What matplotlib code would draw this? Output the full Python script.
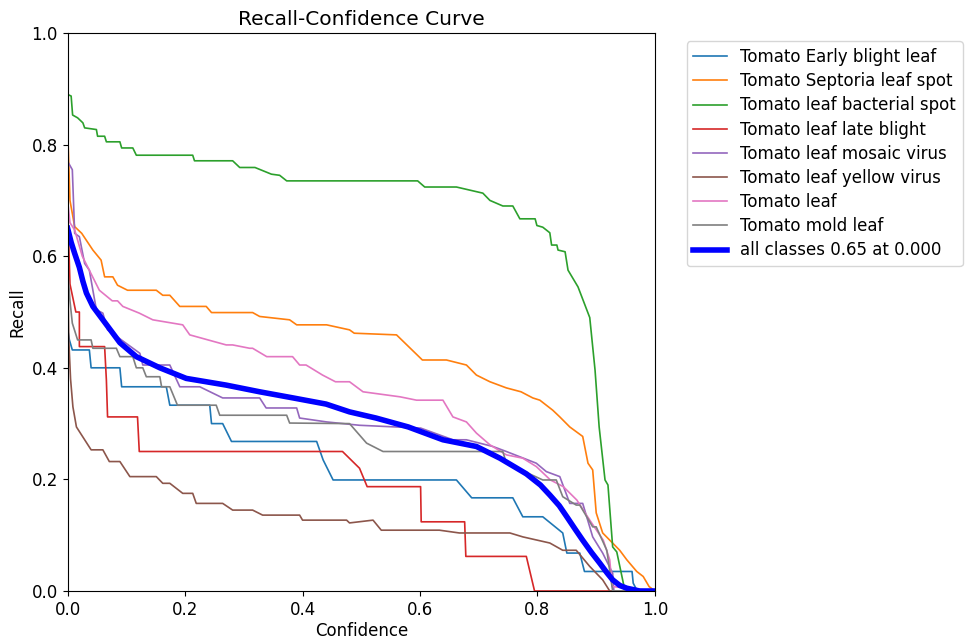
import numpy as np
import matplotlib
matplotlib.use('Agg')
import matplotlib.pyplot as plt

# recall vs confidence per class
names = ['Tomato Early blight leaf', 'Tomato Septoria leaf spot', 'Tomato leaf bacterial spot',
         'Tomato leaf late blight', 'Tomato leaf mosaic virus', 'Tomato leaf yellow virus',
         'Tomato leaf', 'Tomato mold leaf']

early_x = [0.0, 0.003, 0.008, 0.037, 0.040, 0.089, 0.092, 0.168, 0.174, 0.242, 0.245, 0.264, 0.279,
           0.424, 0.435, 0.452, 0.480, 0.662, 0.688, 0.758, 0.775, 0.809, 0.843, 0.850, 0.872, 0.880,
           0.961, 0.963, 0.97, 1.0]
early_y = [0.47, 0.45, 0.432, 0.432, 0.40, 0.40, 0.366, 0.366, 0.333, 0.333, 0.30, 0.30, 0.268,
           0.268, 0.235, 0.199, 0.199, 0.199, 0.167, 0.167, 0.133, 0.133, 0.104, 0.068, 0.068, 0.035,
           0.035, 0.014, 0.0, 0.0]

sept_x = [0.0, 0.004, 0.012, 0.024, 0.043, 0.057, 0.063, 0.077, 0.085, 0.102, 0.151, 0.162, 0.174,
          0.191, 0.236, 0.245, 0.315, 0.327, 0.378, 0.390, 0.441, 0.480, 0.488, 0.560, 0.604, 0.645,
          0.679, 0.696, 0.719, 0.747, 0.772, 0.792, 0.804, 0.826, 0.838, 0.855, 0.877, 0.886, 0.894,
          0.900, 0.911, 0.940, 0.952, 0.969, 0.980, 0.99, 1.0]
sept_y = [0.83, 0.70, 0.653, 0.641, 0.611, 0.593, 0.563, 0.563, 0.548, 0.539, 0.539, 0.53, 0.53,
          0.51, 0.51, 0.499, 0.499, 0.492, 0.486, 0.477, 0.477, 0.468, 0.462, 0.459, 0.414, 0.414,
          0.405, 0.387, 0.375, 0.364, 0.357, 0.346, 0.342, 0.324, 0.312, 0.294, 0.277, 0.229, 0.217,
          0.14, 0.104, 0.073, 0.056, 0.035, 0.026, 0.008, 0.0]

bact_x = [0.0, 0.006, 0.0085, 0.017, 0.026, 0.029, 0.049, 0.051, 0.063, 0.066, 0.089, 0.092, 0.111,
          0.117, 0.213, 0.216, 0.281, 0.293, 0.319, 0.347, 0.361, 0.373, 0.596, 0.608, 0.662, 0.707,
          0.719, 0.741, 0.758, 0.770, 0.796, 0.799, 0.809, 0.821, 0.824, 0.833, 0.835, 0.847, 0.852,
          0.869, 0.889, 0.898, 0.905, 0.915, 0.920, 0.928, 0.935, 0.949, 1.0]
bact_y = [0.89, 0.887, 0.853, 0.848, 0.839, 0.83, 0.827, 0.815, 0.815, 0.805, 0.805, 0.794, 0.794,
          0.781, 0.781, 0.771, 0.771, 0.759, 0.759, 0.747, 0.745, 0.735, 0.735, 0.724, 0.724, 0.713,
          0.70, 0.69, 0.69, 0.667, 0.667, 0.655, 0.652, 0.642, 0.62, 0.62, 0.611, 0.608, 0.575, 0.545,
          0.49, 0.396, 0.294, 0.199, 0.19, 0.079, 0.07, 0.0, 0.0]

late_x = [0.0, 0.004, 0.014, 0.020, 0.020, 0.063, 0.066, 0.068, 0.119, 0.122, 0.468, 0.497, 0.510,
          0.601, 0.602, 0.676, 0.678, 0.781, 0.795, 1.0]
late_y = [0.69, 0.55, 0.50, 0.50, 0.438, 0.438, 0.378, 0.312, 0.312, 0.25, 0.25, 0.22, 0.187,
          0.187, 0.124, 0.124, 0.062, 0.062, 0.0, 0.0]

mosaic_x = [0.0, 0.008, 0.012, 0.020, 0.029, 0.037, 0.043, 0.049, 0.060, 0.068, 0.123, 0.128,
            0.174, 0.191, 0.225, 0.264, 0.327, 0.338, 0.390, 0.395, 0.441, 0.497, 0.600, 0.601,
            0.656, 0.679, 0.724, 0.747, 0.798, 0.815, 0.838, 0.855, 0.877, 0.894, 0.911, 0.928,
            0.93, 1.0]
mosaic_y = [0.77, 0.755, 0.641, 0.635, 0.587, 0.575, 0.539, 0.504, 0.498, 0.468, 0.426, 0.405,
            0.405, 0.366, 0.366, 0.346, 0.346, 0.328, 0.328, 0.31, 0.303, 0.297, 0.292, 0.292,
            0.271, 0.271, 0.259, 0.25, 0.229, 0.214, 0.205, 0.157, 0.157, 0.097, 0.068, 0.032,
            0.0, 0.0]

yellow_x = [0.0, 0.002, 0.005, 0.009, 0.015, 0.040, 0.060, 0.071, 0.089, 0.106, 0.151, 0.162, 0.174,
            0.196, 0.213, 0.219, 0.264, 0.281, 0.315, 0.332, 0.395, 0.400, 0.475, 0.480, 0.520, 0.534,
            0.633, 0.667, 0.753, 0.775, 0.821, 0.843, 0.866, 0.889, 0.911, 0.923, 1.0]
yellow_y = [0.60, 0.45, 0.38, 0.33, 0.294, 0.253, 0.253, 0.232, 0.232, 0.205, 0.205, 0.193, 0.193,
            0.175, 0.175, 0.157, 0.157, 0.145, 0.145, 0.136, 0.136, 0.127, 0.127, 0.122, 0.127,
            0.109, 0.109, 0.104, 0.104, 0.097, 0.086, 0.073, 0.073, 0.044, 0.02, 0.0, 0.0]

leaf_x = [0.0, 0.004, 0.012, 0.025, 0.054, 0.076, 0.085, 0.094, 0.122, 0.145, 0.196, 0.202, 0.208,
          0.270, 0.281, 0.310, 0.315, 0.339, 0.383, 0.395, 0.406, 0.434, 0.456, 0.480, 0.503, 0.566,
          0.594, 0.639, 0.656, 0.679, 0.696, 0.719, 0.747, 0.775, 0.798, 0.822, 0.844, 0.867,
          0.889, 0.912, 0.923, 0.927, 1.0]
leaf_y = [0.70, 0.66, 0.647, 0.60, 0.539, 0.52, 0.52, 0.51, 0.498, 0.486, 0.477, 0.468, 0.459,
          0.441, 0.441, 0.435, 0.435, 0.42, 0.42, 0.405, 0.405, 0.387, 0.375, 0.375, 0.357, 0.348,
          0.342, 0.342, 0.312, 0.303, 0.283, 0.262, 0.244, 0.238, 0.223, 0.199, 0.187, 0.163,
          0.127, 0.091, 0.056, 0.008, 0.0]

mold_x = [0.0, 0.004, 0.008, 0.017, 0.040, 0.043, 0.083, 0.089, 0.111, 0.117, 0.128, 0.134, 0.157,
          0.160, 0.174, 0.187, 0.253, 0.259, 0.373, 0.378, 0.480, 0.509, 0.537, 0.741, 0.747, 0.809,
          0.832, 0.843, 0.866, 0.872, 0.894, 0.900, 0.918, 0.928, 1.0]
mold_y = [0.58, 0.52, 0.48, 0.45, 0.45, 0.435, 0.435, 0.42, 0.42, 0.40, 0.40, 0.384, 0.384, 0.366,
          0.366, 0.333, 0.333, 0.315, 0.315, 0.301, 0.30, 0.265, 0.25, 0.25, 0.229, 0.199, 0.199,
          0.169, 0.154, 0.154, 0.115, 0.115, 0.073, 0.0, 0.0]

all_x = [0.0, 0.006, 0.012, 0.020, 0.026, 0.032, 0.043, 0.060, 0.077, 0.089, 0.117, 0.157, 0.202,
         0.270, 0.327, 0.384, 0.440, 0.480, 0.525, 0.580, 0.639, 0.696, 0.736, 0.781, 0.805, 0.821,
         0.837, 0.850, 0.864, 0.877, 0.892, 0.906, 0.918, 0.928, 0.940, 0.952, 0.974, 1.0]
all_y = [0.65, 0.625, 0.605, 0.58, 0.555, 0.534, 0.51, 0.486, 0.462, 0.445, 0.42, 0.40, 0.381,
         0.369, 0.357, 0.346, 0.335, 0.321, 0.31, 0.294, 0.271, 0.259, 0.238, 0.21, 0.19, 0.172,
         0.153, 0.133, 0.111, 0.091, 0.069, 0.05, 0.033, 0.02, 0.01, 0.005, 0.0, 0.0]

curves = [(early_x, early_y), (sept_x, sept_y), (bact_x, bact_y), (late_x, late_y),
          (mosaic_x, mosaic_y), (yellow_x, yellow_y), (leaf_x, leaf_y), (mold_x, mold_y)]

fig, ax = plt.subplots(figsize=(9.66, 6.41), dpi=100)
fig.subplots_adjust(left=0.070, right=0.678, top=0.9485, bottom=0.078)

for name, (x, y) in zip(names, curves):
    ax.plot(x, y, linewidth=1.2, label=name)
ax.plot(all_x, all_y, linewidth=4, color='blue', label='all classes 0.65 at 0.000')

ax.set_xlabel('Confidence', fontsize=12, labelpad=2)
ax.set_ylabel('Recall', fontsize=12)
ax.set_xlim(0, 1)
ax.set_ylim(0, 1)
ax.tick_params(labelsize=12)
ax.set_title('Recall-Confidence Curve', fontsize=14.5)
ax.legend(bbox_to_anchor=(1.04, 1), loc='upper left', fontsize=12, labelspacing=0.37)

fig.savefig('out.png', dpi=100)
